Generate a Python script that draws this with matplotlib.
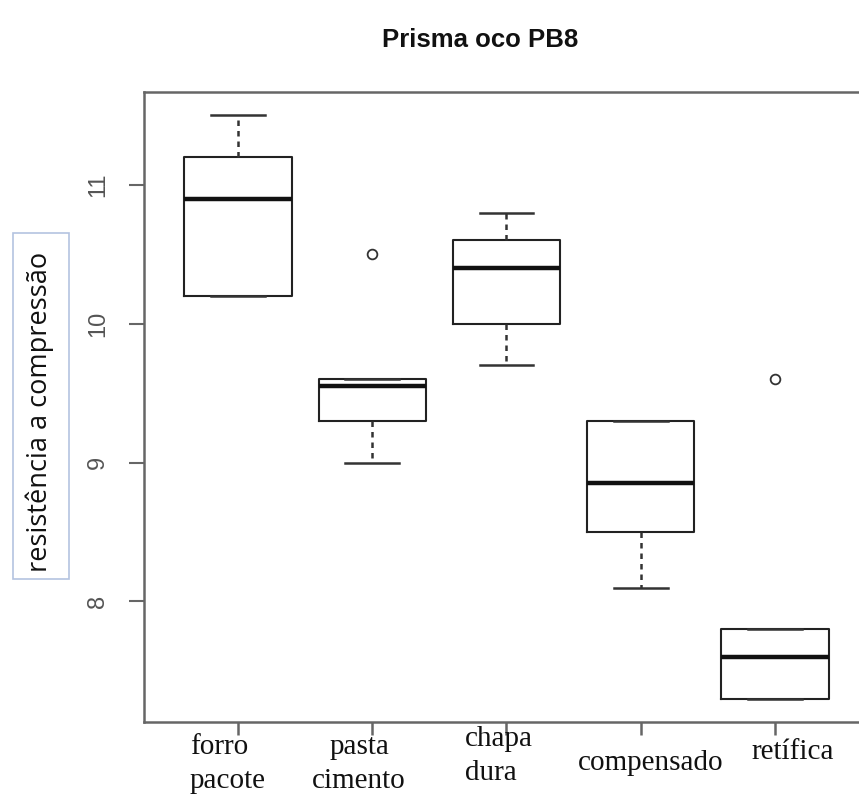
import matplotlib
matplotlib.use("Agg")
import matplotlib.pyplot as plt
from matplotlib.patches import FancyBboxPatch

# ---- data ----
categories = ["forro\npacote", "pasta\ncimento", "chapa\ndura", "compensado", "retífica"]
whislo = [10.2, 9.0, 9.7, 8.1, 7.3]
q1 = [10.2, 9.3, 10.0, 8.5, 7.3]
med = [10.9, 9.55, 10.4, 8.85, 7.6]
q3 = [11.2, 9.6, 10.6, 9.3, 7.8]
whishi = [11.5, 9.6, 10.8, 9.3, 7.8]
fliers = [[], [10.5], [], [], [9.6]]
yticks = [8, 9, 10, 11]

W, H = 859, 808
fig = plt.figure(figsize=(W / 100, H / 100), dpi=100)
# plot region in pixels: left 144, right 869 (runs past the image edge), top 92, bottom 722
ax = fig.add_axes([144 / W, (H - 722) / H, (869 - 144) / W, (722 - 92) / H])

stats = []
for i in range(len(categories)):
    stats.append(dict(whislo=whislo[i], q1=q1[i], med=med[i], q3=q3[i],
                      whishi=whishi[i], fliers=fliers[i]))

ax.bxp(stats, positions=range(1, len(categories) + 1), widths=0.8,
       showfliers=True,
       boxprops=dict(color="#222", linewidth=1.5),
       medianprops=dict(color="#111", linewidth=3.2),
       whiskerprops=dict(color="#333", linewidth=1.8, linestyle=(0, (2.2, 2.0))),
       capprops=dict(color="#333", linewidth=1.8),
       capwidths=0.4,
       flierprops=dict(marker="o", markerfacecolor="white", markeredgecolor="#333",
                       markersize=7, markeredgewidth=1.3))

ax.set_xlim(0.3, 5.7)
ax.set_ylim(7.132, 11.668)

for s in ["left", "bottom", "top"]:
    ax.spines[s].set_color("#666")
    ax.spines[s].set_linewidth(1.8)
ax.spines["right"].set_visible(False)

ax.set_yticks(yticks)
ax.set_yticklabels([str(t) for t in yticks], rotation=90, va="center",
                   fontsize=17, color="#555", family="Liberation Sans")
ax.tick_params(axis="y", length=11, width=1.5, color="#666", pad=14)
ax.set_xticks(range(1, len(categories) + 1))
ax.set_xticklabels([""] * len(categories))
ax.tick_params(axis="x", length=9, width=1.8, color="#666")

# category labels (serif, pasted in under the ticks)
label_pos = [(190, 764, "left"), (359, 764, "center"), (465, 756, "left"),
             (651, 763, "center"), (793, 752, "center")]
for name, (px, py, ha) in zip(categories, label_pos):
    fig.text(px / W, 1 - py / H, name, ha=ha, va="center", multialignment=ha,
             fontsize=21, family="Liberation Serif", color="#111", linespacing=1.45)

# title
fig.text(480 / W, 1 - 40 / H, "Prisma oco PB8", ha="center", va="center",
         fontsize=18.5, fontweight="bold", family="Liberation Sans", color="#111")

# y label in a thin blue frame
box = FancyBboxPatch((13 / W, 1 - 579 / H), (69 - 13) / W, (579 - 233) / H,
                     boxstyle="square,pad=0", transform=fig.transFigure,
                     facecolor="white", edgecolor="#b4c3e0", linewidth=1.2)
fig.patches.append(box)
fig.text(40 / W, 1 - 412 / H, "resistência a compressão", rotation=90,
         ha="center", va="center", fontsize=19.5, family="Open Sans", color="#111")

fig.savefig("out.png", dpi=100, facecolor="white")
